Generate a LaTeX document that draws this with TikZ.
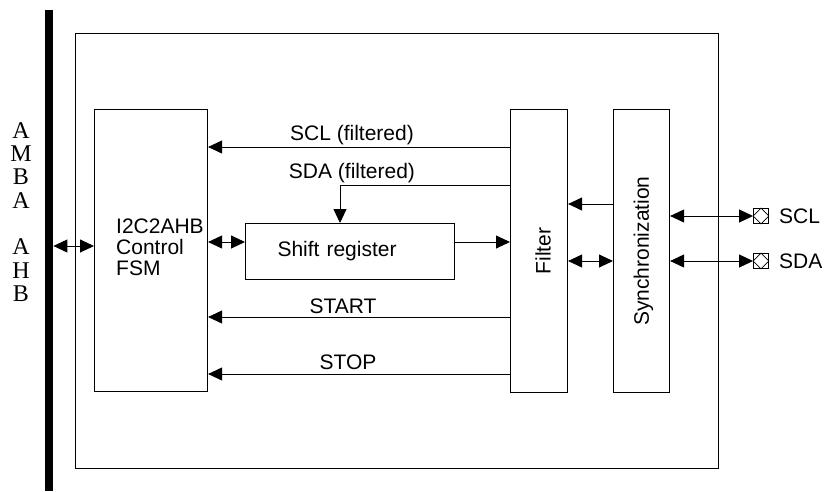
\documentclass[tikz,border=0pt]{standalone}
\usepackage{fontspec}
\setmainfont{Liberation Sans}
\newfontfamily\ambafont{Liberation Serif}
\usetikzlibrary{arrows.meta, positioning}

\begin{document}
\begin{tikzpicture}[
  x=1pt, y=-1pt,
  blk/.style={draw, line width=1.1pt, inner sep=0pt, anchor=north west},
  sig/.style={line width=0.9pt, -{Triangle[length=14pt,width=13pt]}},
  dbl/.style={line width=0.9pt, {Triangle[length=14pt,width=13pt]}-{Triangle[length=14pt,width=13pt]}},
  lbl/.style={font=\fontsize{21}{21}\selectfont, inner sep=0pt},
  pinbox/.style={draw, line width=0.9pt, minimum size=15pt, inner sep=0pt}
]
  \useasboundingbox (0,0) rectangle (833,491);

  % bus and outer block
  \node[fill, inner sep=0pt, minimum width=8pt, minimum height=481pt, anchor=north west] (bus) at (45,10) {};
  \node[font=\ambafont\fontsize{24}{23.3}\selectfont, align=center, inner sep=0pt] (amba) at (21,212)
    {A\\M\\B\\A\\[23.3pt]A\\H\\B};
  \node[blk, line width=1.3pt, minimum width=643pt, minimum height=435pt] (core) at (75,33) {};

  % blocks
  \node[blk, minimum width=113pt, minimum height=282pt] (fsm) at (94,109) {};
  \node[lbl, align=left, anchor=west] (fsmtxt) at (116,247)
    {I2C2AHB\\Control\\FSM};
  \node[blk, minimum width=209pt, minimum height=56pt, text width=145pt, align=left, font=\fontsize{21}{21}\selectfont] (shift) at (245,223) {Shift register};
  \node[blk, minimum width=57pt, minimum height=283pt,
        label={[lbl, rotate=90, yshift=-4pt]center:Filter}] (filter) at (510,109) {};
  \node[blk, minimum width=56pt, minimum height=283pt,
        label={[lbl, rotate=90, yshift=-2pt]center:Synchronization}] (sync) at (613,109) {};

  % pins
  \node[pinbox] (sclpin) at (761,216) {};
  \node[pinbox] (sdapin) at (761,261) {};
  \foreach \p in {sclpin, sdapin}
    \draw[line width=0.7pt] (\p.north) -- (\p.east) -- (\p.south) -- (\p.west) -- cycle;
  \node[lbl, anchor=west] (scltxt) at (779,216) {SCL};
  \node[lbl, anchor=west] (sdatxt) at (779,261) {SDA};

  % signals
  \draw[sig] (filter.west |- 0,147) -- (fsm.east |- 0,147);
  \node[lbl] (sclf) at (352,135) {SCL (filtered)};
  \draw[sig] (filter.west |- 0,185) -| (shift.north -| 340,0);
  \node[lbl] (sdaf) at (352,173) {SDA (filtered)};
  \draw[dbl] (fsm.east |- 0,242) -- (shift.west |- 0,242);
  \draw[sig] (shift.east |- 0,242) -- (filter.west |- 0,242);
  \draw[sig] (filter.west |- 0,317) -- (fsm.east |- 0,317);
  \node[lbl] (start) at (343,306) {START};
  \draw[sig] (filter.west |- 0,374) -- (fsm.east |- 0,374);
  \node[lbl] (stop) at (348,362) {STOP};
  \draw[dbl] (bus.east |- 0,246) -- (fsm.west |- 0,246);
  \draw[sig] (sync.west |- 0,204) -- (filter.east |- 0,204);
  \draw[dbl] (filter.east |- 0,261) -- (sync.west |- 0,261);
  \draw[dbl] (sync.east |- sclpin.west) -- (sclpin.west);
  \draw[dbl] (sync.east |- sdapin.west) -- (sdapin.west);
\end{tikzpicture}
\end{document}
